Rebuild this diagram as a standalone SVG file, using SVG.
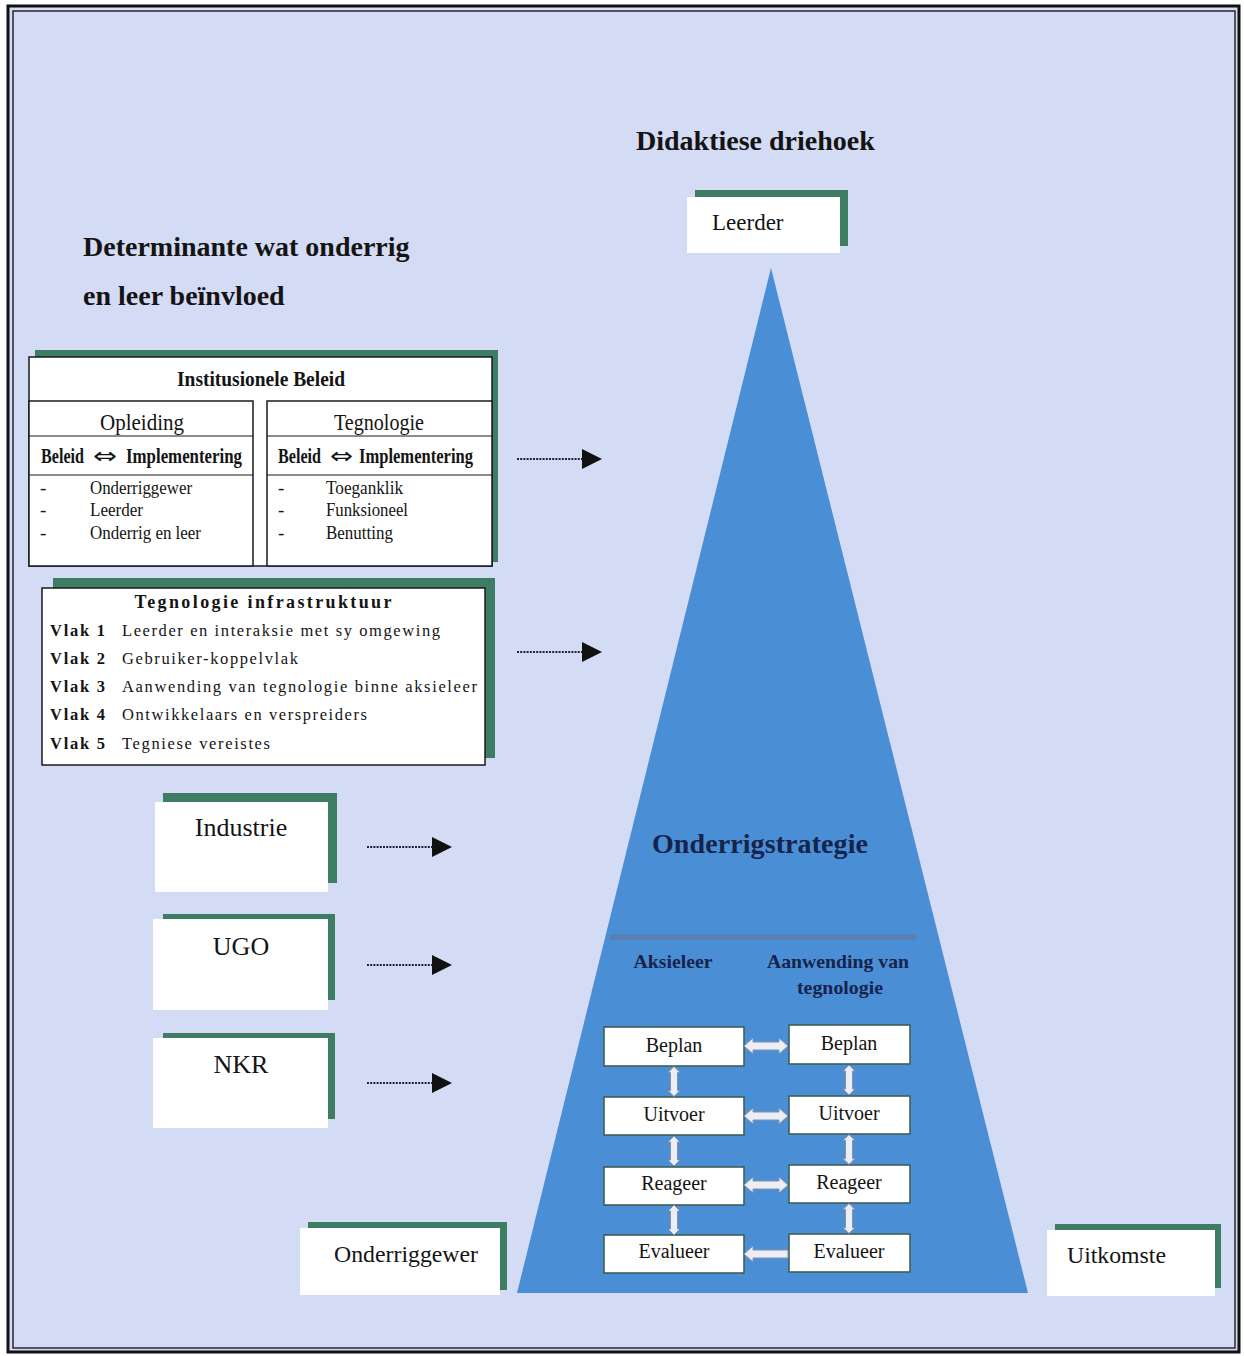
<svg xmlns="http://www.w3.org/2000/svg" width="1244" height="1356" viewBox="0 0 1244 1356">
<defs>
<style>
.serif{font-family:"Liberation Serif","Times New Roman",serif;fill:#141414}
.sym{font-family:"DejaVu Sans","Liberation Sans",sans-serif;fill:#141414}
.b{font-weight:bold}
.wbox{fill:#ffffff}
.shadow{fill:#3c7d64}
.tbl{fill:#ffffff;stroke:#1a1a1a;stroke-width:1.5}
.rule{stroke:#1a1a1a;stroke-width:1.2}
.dot{stroke:#1e2240;stroke-width:2.2;stroke-dasharray:2 1.2;fill:none}
.cell{fill:#ffffff;stroke:#3f5f57;stroke-width:1.6}
.navy{fill:#16234a}
.fat{fill:#eceef6;stroke:#8790a6;stroke-width:1}
</style>
<marker id="ah" markerUnits="userSpaceOnUse" markerWidth="22" markerHeight="22" refX="2" refY="10" orient="auto">
<path d="M0,0 L20,10 L0,20 Z" fill="#111111"/>
</marker>
<path id="hdbl" d="M-22,0 L-13,-8 L-13,-4 L13,-4 L13,-8 L22,0 L13,8 L13,4 L-13,4 L-13,8 Z"/>
<path id="hleft" d="M-22,0 L-13,-8 L-13,-4 L22,-4 L22,4 L-13,4 L-13,8 Z"/>
<path id="vdbl" d="M0,-15 L6,-9 L3.5,-9 L3.5,9 L6,9 L0,15 L-6,9 L-3.5,9 L-3.5,-9 L-6,-9 Z"/>
</defs>

<!-- background & frame -->
<rect x="0" y="0" width="1244" height="1356" fill="#ffffff"/>
<rect x="8" y="6" width="1231" height="1346" fill="#d4dbf4" stroke="#111111" stroke-width="3"/>
<rect x="13" y="11" width="1222" height="1337" fill="none" stroke="#2a2a2a" stroke-width="1.5"/>

<!-- titles -->
<text class="serif b" x="636" y="150" font-size="28">Didaktiese driehoek</text>
<text class="serif b" x="83" y="256" font-size="28">Determinante wat onderrig</text>
<text class="serif b" x="83" y="305" font-size="28">en leer beïnvloed</text>

<!-- triangle -->
<g id="triangle">
<polygon points="771,268 1028,1293 517,1293" fill="#4a8ed6"/>
<text class="serif b navy" x="760" y="853" font-size="28" text-anchor="middle" textLength="216">Onderrigstrategie</text>
<line x1="610" y1="937" x2="916" y2="937" stroke="#5a7fae" stroke-width="5"/>
<text class="serif b navy" x="673" y="968" font-size="19" text-anchor="middle" textLength="79" lengthAdjust="spacingAndGlyphs">Aksieleer</text>
<text class="serif b navy" x="838" y="968" font-size="19" text-anchor="middle" textLength="142" lengthAdjust="spacingAndGlyphs">Aanwending van</text>
<text class="serif b navy" x="840" y="994" font-size="19" text-anchor="middle" textLength="86" lengthAdjust="spacingAndGlyphs">tegnologie</text>
</g>

<!-- Leerder -->
<g id="leerder">
<rect class="shadow" x="695" y="190" width="153" height="56"/>
<rect class="wbox" x="687" y="197" width="153" height="56"/>
<text class="serif" x="712" y="230" font-size="23">Leerder</text>
</g>

<!-- Institusionele Beleid -->
<g id="institusionele-beleid">
<rect class="shadow" x="35" y="350" width="463" height="212"/>
<rect class="tbl" x="29" y="357" width="463" height="209"/>
<text class="serif b" x="261" y="386" font-size="22" text-anchor="middle" textLength="168" lengthAdjust="spacingAndGlyphs">Institusionele Beleid</text>
<rect class="tbl" x="29" y="401" width="224" height="165"/>
<rect class="tbl" x="267" y="401" width="225" height="165"/>
<line class="rule" x1="29" y1="436" x2="253" y2="436"/>
<line class="rule" x1="29" y1="475" x2="253" y2="475"/>
<line class="rule" x1="267" y1="436" x2="492" y2="436"/>
<line class="rule" x1="267" y1="475" x2="492" y2="475"/>
<text class="serif" x="142" y="430" font-size="23" text-anchor="middle" textLength="84" lengthAdjust="spacingAndGlyphs">Opleiding</text>
<text class="serif" x="379" y="430" font-size="23" text-anchor="middle" textLength="90" lengthAdjust="spacingAndGlyphs">Tegnologie</text>
<text class="serif b" x="41" y="463" font-size="20" textLength="43" lengthAdjust="spacingAndGlyphs">Beleid</text>
<text class="sym" x="93" y="463" font-size="21" textLength="24" lengthAdjust="spacingAndGlyphs">⇔</text>
<text class="serif b" x="126" y="463" font-size="20" textLength="116" lengthAdjust="spacingAndGlyphs">Implementering</text>
<text class="serif b" x="278" y="463" font-size="20" textLength="43" lengthAdjust="spacingAndGlyphs">Beleid</text>
<text class="sym" x="330" y="463" font-size="21" textLength="23" lengthAdjust="spacingAndGlyphs">⇔</text>
<text class="serif b" x="359" y="463" font-size="20" textLength="114" lengthAdjust="spacingAndGlyphs">Implementering</text>
<g class="serif" font-size="19">
<text x="40" y="494">-</text><text x="90" y="494" textLength="102" lengthAdjust="spacingAndGlyphs">Onderriggewer</text>
<text x="40" y="516">-</text><text x="90" y="516" textLength="53" lengthAdjust="spacingAndGlyphs">Leerder</text>
<text x="40" y="539">-</text><text x="90" y="539" textLength="111" lengthAdjust="spacingAndGlyphs">Onderrig en leer</text>
<text x="278" y="494">-</text><text x="326" y="494" textLength="77" lengthAdjust="spacingAndGlyphs">Toeganklik</text>
<text x="278" y="516">-</text><text x="326" y="516" textLength="82" lengthAdjust="spacingAndGlyphs">Funksioneel</text>
<text x="278" y="539">-</text><text x="326" y="539" textLength="67" lengthAdjust="spacingAndGlyphs">Benutting</text>
</g>
</g>

<!-- Tegnologie infrastruktuur -->
<g id="tegnologie-infrastruktuur">
<rect class="shadow" x="53" y="578" width="442" height="180"/>
<rect class="tbl" x="42" y="588" width="443" height="177"/>
<text class="serif b" x="263" y="608" font-size="18" text-anchor="middle" textLength="257">Tegnologie infrastruktuur</text>
<g class="serif" font-size="16.5">
<text class="b" x="50" y="636" textLength="55">Vlak 1</text><text x="122" y="636" textLength="318">Leerder en interaksie met sy omgewing</text>
<text class="b" x="50" y="664" textLength="55">Vlak 2</text><text x="122" y="664" textLength="176">Gebruiker-koppelvlak</text>
<text class="b" x="50" y="692" textLength="55">Vlak 3</text><text x="122" y="692" textLength="355">Aanwending van tegnologie binne aksieleer</text>
<text class="b" x="50" y="720" textLength="55">Vlak 4</text><text x="122" y="720" textLength="245">Ontwikkelaars en verspreiders</text>
<text class="b" x="50" y="749" textLength="55">Vlak 5</text><text x="122" y="749" textLength="148">Tegniese vereistes</text>
</g>
</g>

<!-- left boxes -->
<g id="industrie">
<rect class="shadow" x="163" y="793" width="174" height="90"/>
<rect class="wbox" x="155" y="802" width="173" height="90"/>
<text class="serif" x="241" y="836" font-size="26" text-anchor="middle">Industrie</text>
</g>
<g id="ugo">
<rect class="shadow" x="163" y="914" width="172" height="86"/>
<rect class="wbox" x="153" y="919" width="175" height="91"/>
<text class="serif" x="241" y="955" font-size="26" text-anchor="middle">UGO</text>
</g>
<g id="nkr">
<rect class="shadow" x="163" y="1033" width="172" height="86"/>
<rect class="wbox" x="153" y="1038" width="175" height="90"/>
<text class="serif" x="241" y="1073" font-size="26" text-anchor="middle">NKR</text>
</g>

<!-- bottom corner boxes -->
<g id="onderriggewer">
<rect class="shadow" x="308" y="1222" width="199" height="68"/>
<rect class="wbox" x="300" y="1228" width="200" height="67"/>
<text class="serif" x="334" y="1262" font-size="24" textLength="144" lengthAdjust="spacingAndGlyphs">Onderriggewer</text>
</g>
<g id="uitkomste">
<rect class="shadow" x="1055" y="1224" width="166" height="64"/>
<rect class="wbox" x="1047" y="1230" width="168" height="66"/>
<text class="serif" x="1067" y="1263" font-size="24" textLength="99" lengthAdjust="spacingAndGlyphs">Uitkomste</text>
</g>

<!-- grid cells -->
<g id="aksieleer-beplan"><rect class="cell" x="604" y="1027" width="140" height="39"/><text class="serif" x="674" y="1052" font-size="20" text-anchor="middle">Beplan</text></g>
<g id="aksieleer-uitvoer"><rect class="cell" x="604" y="1097" width="140" height="38"/><text class="serif" x="674" y="1121" font-size="20" text-anchor="middle">Uitvoer</text></g>
<g id="aksieleer-reageer"><rect class="cell" x="604" y="1167" width="140" height="38"/><text class="serif" x="674" y="1190" font-size="20" text-anchor="middle">Reageer</text></g>
<g id="aksieleer-evalueer"><rect class="cell" x="604" y="1235" width="140" height="38"/><text class="serif" x="674" y="1258" font-size="20" text-anchor="middle">Evalueer</text></g>
<g id="tegnologie-beplan"><rect class="cell" x="789" y="1025" width="121" height="39"/><text class="serif" x="849" y="1050" font-size="20" text-anchor="middle">Beplan</text></g>
<g id="tegnologie-uitvoer"><rect class="cell" x="789" y="1096" width="121" height="38"/><text class="serif" x="849" y="1120" font-size="20" text-anchor="middle">Uitvoer</text></g>
<g id="tegnologie-reageer"><rect class="cell" x="789" y="1165" width="121" height="38"/><text class="serif" x="849" y="1189" font-size="20" text-anchor="middle">Reageer</text></g>
<g id="tegnologie-evalueer"><rect class="cell" x="789" y="1234" width="121" height="38"/><text class="serif" x="849" y="1258" font-size="20" text-anchor="middle">Evalueer</text></g>

<!-- connectors -->
<g id="connectors">
<line class="dot" x1="517" y1="459" x2="584" y2="459" marker-end="url(#ah)"/>
<line class="dot" x1="517" y1="652" x2="584" y2="652" marker-end="url(#ah)"/>
<line class="dot" x1="367" y1="847" x2="434" y2="847" marker-end="url(#ah)"/>
<line class="dot" x1="367" y1="965" x2="434" y2="965" marker-end="url(#ah)"/>
<line class="dot" x1="367" y1="1083" x2="434" y2="1083" marker-end="url(#ah)"/>
<use href="#hdbl" class="fat" x="766" y="1046"/>
<use href="#hdbl" class="fat" x="766" y="1116"/>
<use href="#hdbl" class="fat" x="766" y="1185"/>
<use href="#hleft" class="fat" x="766" y="1254"/>
<use href="#vdbl" class="fat" x="674" y="1081.5"/>
<use href="#vdbl" class="fat" x="674" y="1151"/>
<use href="#vdbl" class="fat" x="674" y="1220"/>
<use href="#vdbl" class="fat" x="849" y="1080"/>
<use href="#vdbl" class="fat" x="849" y="1149.5"/>
<use href="#vdbl" class="fat" x="849" y="1218.5"/>
</g>
</svg>
